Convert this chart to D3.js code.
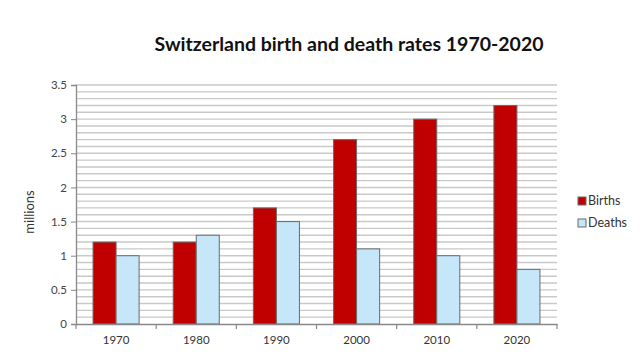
<!DOCTYPE html>
<html><head><meta charset="utf-8">
<script src="https://cdn.jsdelivr.net/npm/d3@7"></script>
<style>body{margin:0;background:#fff;}svg{display:block;}</style>
</head><body>
<svg id="c" width="640" height="360"></svg>
<script>
const years = ["1970","1980","1990","2000","2010","2020"];
const births = [1.2, 1.2, 1.7, 2.7, 3.0, 3.2];
const deaths = [1.0, 1.3, 1.5, 1.1, 1.0, 0.8];
const seriesNames = ["Births","Deaths"];
const yTicks = [0,0.5,1,1.5,2,2.5,3,3.5];
const colors = ["#c00000","#c6e6f9"];

const svg = d3.select("#c");
const m = {l:76, r:557, t:85, b:324};
const x = d3.scaleBand().domain(years).range([m.l, m.r]).paddingInner(0).paddingOuter(0);
const y = d3.scaleLinear().domain([0,3.5]).range([m.b, m.t]);
const font = "Lato, 'Open Sans', sans-serif";

// gridlines every 0.1
const grid = d3.range(1, 36).map(i => i/10);
svg.append("g").selectAll("line").data(grid).join("line")
  .attr("x1", m.l).attr("x2", m.r)
  .attr("y1", d => y(d)).attr("y2", d => y(d))
  .attr("stroke", "#c9c9c9").attr("stroke-width", 1.4);

// bars
const inner = d3.scaleBand().domain(seriesNames).range([0, x.bandwidth()]).paddingOuter(0.74).paddingInner(0);
const data = years.map((yr,i) => ({yr, vals:[births[i], deaths[i]]}));
const g = svg.append("g");
data.forEach(d => {
  d.vals.forEach((v,j) => {
    g.append("rect")
      .attr("x", x(d.yr) + inner(seriesNames[j]))
      .attr("y", y(v))
      .attr("width", inner.bandwidth())
      .attr("height", y(0) - y(v))
      .attr("fill", colors[j])
      .attr("stroke", "#6b6b6b").attr("stroke-width", 1);
  });
});

// y axis
const ya = svg.append("g").attr("transform", `translate(${m.l},0)`)
  .call(d3.axisLeft(y).tickValues(yTicks).tickSize(5).tickFormat(d3.format("")));
ya.select(".domain").attr("stroke", "#888").attr("stroke-width", 1.3);
ya.selectAll(".tick line").attr("stroke", "#888");
ya.selectAll("text").attr("fill", "#444").style("font-family", font).style("font-size", "11.5px").attr("x", -9);

// x axis
const xa = svg.append("g").attr("transform", `translate(0,${m.b})`)
  .call(d3.axisBottom(x).tickSize(0).tickPadding(12));
xa.select(".domain").attr("stroke", "#888").attr("stroke-width", 1.3);
xa.selectAll("text").attr("fill", "#333").style("font-family", font).style("font-size", "11.5px");
svg.append("g").selectAll("line").data(years.concat(["end"])).join("line")
  .attr("x1", d => d === "end" ? m.r : x(d)).attr("x2", d => d === "end" ? m.r : x(d))
  .attr("y1", m.b).attr("y2", m.b + 5).attr("stroke", "#888").attr("stroke-width", 1.2);

// title
svg.append("text").attr("x", 349).attr("y", 51).attr("text-anchor", "middle")
  .style("font-family", font).style("font-weight", "bold").style("font-size", "19.5px").attr("fill", "#111")
  .text("Switzerland birth and death rates 1970-2020");

// y label
svg.append("text").attr("transform", "translate(34,212) rotate(-90)").attr("text-anchor", "middle")
  .style("font-family", font).style("font-size", "13px").attr("fill", "#333").text("millions");

// legend
const lg = svg.append("g");
seriesNames.forEach((s,i) => {
  lg.append("rect").attr("x", 578).attr("y", 197 + i*22).attr("width", 8).attr("height", 8)
    .attr("fill", colors[i]).attr("stroke", "#6b6b6b").attr("stroke-width", 1);
  lg.append("text").attr("x", 588).attr("y", 205 + i*22)
    .style("font-family", font).style("font-size", "12.5px").attr("fill", "#333").text(s);
});
</script>
</body></html>
